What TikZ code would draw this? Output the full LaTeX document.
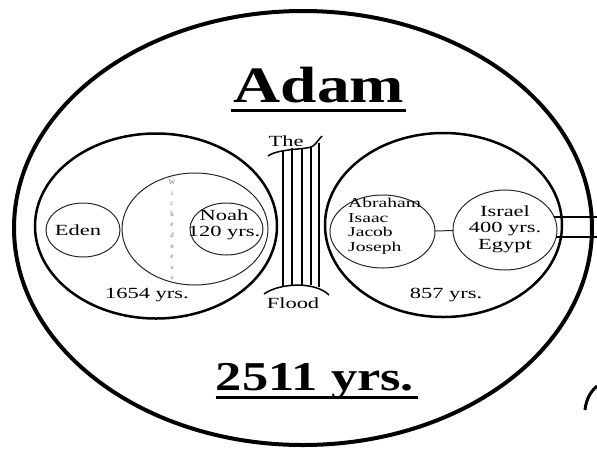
\documentclass[tikz,border=0pt]{standalone}
\usepackage{fontspec}
\setmainfont{Liberation Serif}
\newfontfamily\widefont[FakeStretch=1.45]{Liberation Serif}
\newfontfamily\titlefont[FakeStretch=1.28]{Liberation Serif}
\usetikzlibrary{shapes.geometric}

\begin{document}
\begin{tikzpicture}[x=1pt,y=-1pt,
  ring/.style={ellipse,draw,inner sep=0pt,outer sep=0pt},
  thinring/.style={ring,draw=black!85,line width=1pt},
  words/.style={font=\widefont\fontsize{15.5}{16.5}\selectfont,inner sep=0pt},
  headline/.style={font=\titlefont\bfseries\fontsize{#1}{#1}\selectfont,inner sep=0pt,anchor=base}]
  \useasboundingbox (0,0) rectangle (597,448);

  % the whole span
  \node[ring,line width=4pt,minimum width=578pt,minimum height=434pt] (adam) at (303,228) {};
  \node[headline=51] (title) at (319,102) {Adam};
  \draw[line width=3pt] ([shift={(-3pt,-8pt)}]title.base west) -- ([shift={(2pt,-8pt)}]title.base east);
  \node[headline=41] (total) at (315,390) {2511 yrs.};
  \draw[line width=3pt] ([shift={(0pt,-7pt)}]total.base west) -- ([shift={(4pt,-7pt)}]total.base east);

  % before the flood
  \node[ring,line width=2.5pt,minimum width=242pt,minimum height=185pt] (before) at (156,226) {};
  \node[thinring,minimum width=74pt,minimum height=54pt] (eden) at (83,230) {};
  \node[words] (edenname) at (78,230) {Eden};
  \node[thinring,minimum width=146pt,minimum height=112pt] (wicked) at (195,229) {};
  \node[thinring,minimum width=73pt,minimum height=52pt] (noah) at (226.5,229) {};
  \node[words,align=center] (noahname) at (224,225) {Noah\\120 yrs.};
  \node[font=\fontsize{7}{10.6}\selectfont,text=black!55,align=center,inner sep=0pt] (wickedness) at (172,230) {W\\i\\c\\k\\e\\d\\n\\e\\s\\s};
  \node[words] (span1) at (147,295) {1654 yrs.};

  % the flood
  \draw[line width=1.5pt] (268,156) .. controls (279,148) and (308,150) .. (313,146) .. controls (317,143) and (318,140) .. (322,136);
  \draw[line width=1.5pt] (264,294) .. controls (279,283) and (315,281) .. (329,295);
  \foreach \x/\t/\b in {283/150/286, 292/148/285, 302/148/285, 311/147/285, 319/143/287}
    \draw[line width=1.8pt] (\x,\t) -- (\x,\b);
  \node[words] (the) at (286,141) {The};
  \node[words] (flood) at (293,303) {Flood};

  % after the flood
  \node[ring,line width=2.5pt,minimum width=237pt,minimum height=184pt] (after) at (443.5,225) {};
  \node[thinring,minimum width=105pt,minimum height=73pt] (fathers) at (382.5,231.5) {};
  \node[words,font=\widefont\fontsize{13.5}{14.5}\selectfont,align=left,anchor=west] (names) at (348,226) {Abraham\\Isaac\\Jacob\\Joseph};
  \node[thinring,minimum width=104pt,minimum height=80pt] (israel) at (505,230) {};
  \node[words,align=center] (israelname) at (505,229) {Israel\\400 yrs.\\Egypt};
  \node[words] (span2) at (446,295) {857 yrs.};
  \draw[black!85,line width=1pt] (fathers) -- (israel);

  % on to the next span
  \coordinate (rim) at (597,0);
  \draw[line width=1.8pt] (israel.15) -- (israel.15 -| rim);
  \draw[line width=1.8pt] (israel.-8) -- (israel.-8 -| rim);
  \draw[line width=3pt] (585,410) .. controls (586,400) and (590,392) .. (597,386);
\end{tikzpicture}
\end{document}
